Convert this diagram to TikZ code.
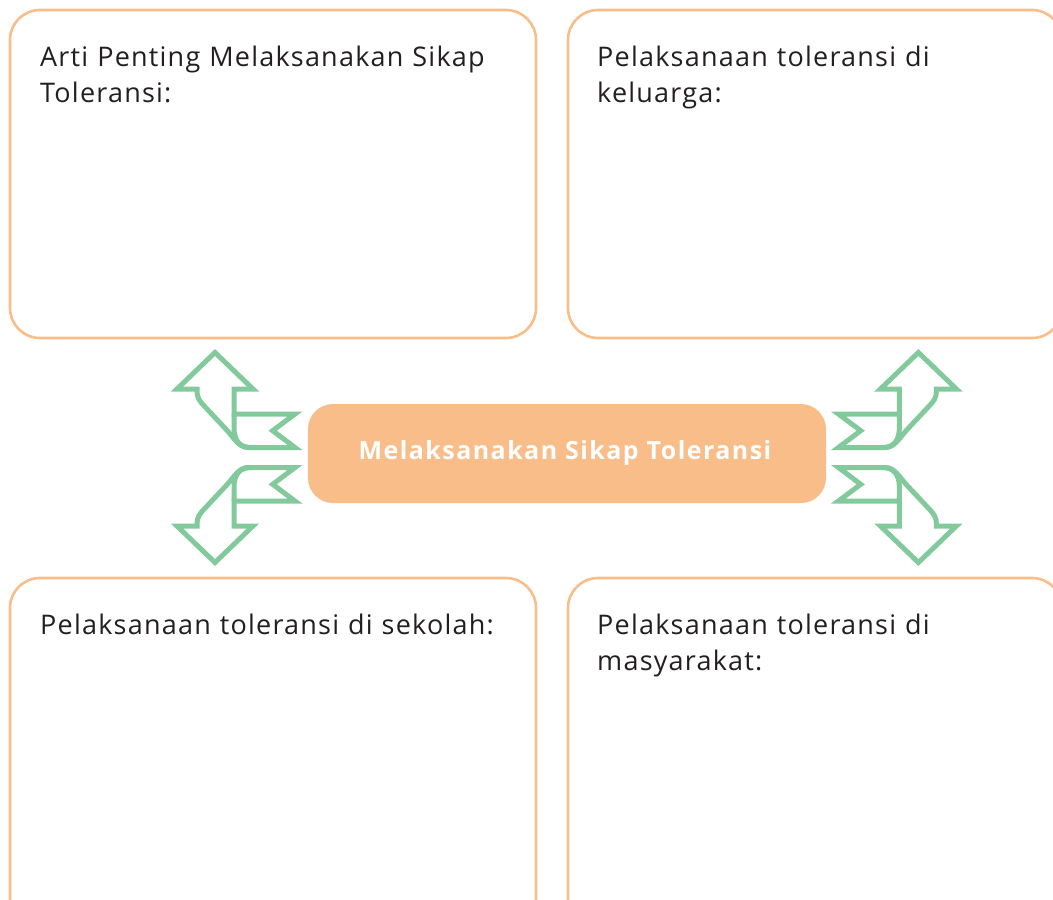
\documentclass[tikz,border=0pt]{standalone}
\usepackage{fontspec}
\setmainfont{Open Sans}
\newfontfamily\labelfont[LetterSpace=4.5]{Open Sans}
\newfontfamily\centerfont[LetterSpace=5.8]{Open Sans}
\definecolor{boxorange}{HTML}{F9BD8A}
\definecolor{fillorange}{HTML}{F9BD8A}
\definecolor{ribgreen}{HTML}{82CA9C}
\definecolor{txt}{HTML}{231F20}
\tikzset{
  frame/.style={draw=boxorange, line width=2.6pt, rounded corners=30pt},
  label/.style={anchor=base west, inner sep=0pt, align=left, text=txt, text width=500pt,
    font=\labelfont\fontsize{27}{36.5}\selectfont},
  arrowline/.style={draw=ribgreen, fill=white, line width=5pt, line join=miter, miter limit=10},
  ribbon/.pic={
    \draw[arrowline] (-351.7,-105) -- (-313.7,-68.5) -- (-332.7,-68.5) -- (-332.7,-43.5)
      -- (-271.7,-43.5) -- (-294,-26.8) -- (-271.7,-10) -- (-318.7,-10)
      .. controls (-328,-10) and (-333,-20) .. (-340,-27.5) -- (-362,-51)
      .. controls (-367,-56) and (-369.7,-60) .. (-369.7,-66) -- (-369.7,-68.5)
      -- (-389.7,-68.5) -- cycle;
    \draw[arrowline, fill=none] (-332.7,-43.5) -- (-332.7,-30)
      .. controls (-332.7,-17) and (-327,-10) .. (-316,-10);
  }
}
\begin{document}
\begin{tikzpicture}[x=1pt,y=-1pt]
\useasboundingbox (0,0) rectangle (1053,900);
\clip (0,0) rectangle (1053,900);
% frames
\draw[frame] (10,10) rectangle (536,338);
\draw[frame] (568,10) rectangle (1062,338);
\draw[frame] (10,578) rectangle (536,940);
\draw[frame] (568,578) rectangle (1062,940);
% texts
\node[label] (t1) at (40,66) {Arti Penting Melaksanakan Sikap\\Toleransi:};
\node[label] (t2) at (597,66) {Pelaksanaan toleransi di\\keluarga:};
\node[label] (t3) at (40,634) {Pelaksanaan toleransi di sekolah:};
\node[label] (t4) at (597,634) {Pelaksanaan toleransi di\\masyarakat:};
% center
\node[fill=fillorange, rounded corners=25pt, minimum width=518pt, minimum height=99pt] (c) at (567,453.5) {};
\node[anchor=base, inner sep=0pt, text=white, font=\centerfont\bfseries\fontsize{25}{29}\selectfont] (ct) at (565,459)
  {Melaksanakan Sikap Toleransi};
% arrows
\pic at (566.7,457.5) {ribbon};
\pic[yscale=-1] at (566.7,457.5) {ribbon};
\pic[xscale=-1] at (566.7,457.5) {ribbon};
\pic[xscale=-1,yscale=-1] at (566.7,457.5) {ribbon};
\end{tikzpicture}
\end{document}
